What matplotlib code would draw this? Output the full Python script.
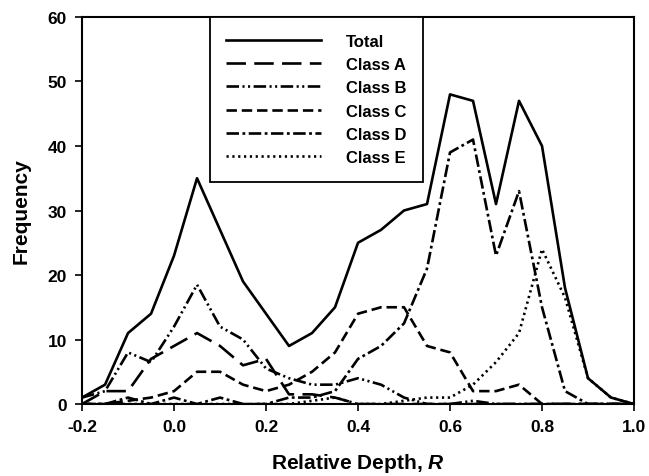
import matplotlib
matplotlib.use("Agg")
import matplotlib.pyplot as plt
import numpy as np

plt.rcParams["font.family"] = ["Liberation Sans", "DejaVu Sans"]
plt.rcParams["font.weight"] = "bold"
plt.rcParams["lines.scale_dashes"] = False
plt.rcParams["mathtext.fontset"] = "custom"
plt.rcParams["mathtext.bfit"] = "Liberation Sans:bold:italic"
plt.rcParams["mathtext.it"] = "Liberation Sans:bold:italic"

depth = [-0.2, -0.15, -0.1, -0.05, 0.0, 0.05, 0.1, 0.15, 0.2, 0.25, 0.3, 0.35,
         0.4, 0.45, 0.5, 0.55, 0.6, 0.65, 0.7, 0.75, 0.8, 0.85, 0.9, 0.95, 1.0]

total = [1, 3, 11, 14, 23, 35, 27, 19, 14, 9, 11, 15,
         25, 27, 30, 31, 48, 47, 31, 47, 40, 18, 4, 1, 0]
class_a = [0, 2, 2, 7, 9, 11, 9, 6, 7, 1.5, 1.5, 1,
           0, 0, 0, 0, 0, 0, 0, 0, 0, 0, 0, 0, 0]
class_b = [1, 2, 8, 6.5, 12, 18.5, 12, 10, 5.5, 4, 3, 3,
           4, 3, 1, 0, 0, 0.5, 0, 0, 0, 0, 0, 0, 0]
class_c = [0, 0, 0.5, 1, 2, 5, 5, 3, 2, 3, 5, 8,
           14, 15, 15, 9, 8, 2, 2, 3, 0, 0, 0, 0, 0]
class_d = [0, 0, 1, 0, 1, 0, 1, 0, 0, 1, 1, 2,
           7, 9, 12.5, 21, 39, 41, 23, 33, 15, 2, 0, 0, 0]
class_e = [0, 0, 0, 0, 0, 0, 0, 0, 0, 0, 0.5, 1,
           0, 0, 0.5, 1, 1, 3, 6.5, 11, 24, 16.5, 4, 1, 0]

series = [
    ("Total", total, "-"),
    ("Class A", class_a, (0, (14, 6))),
    ("Class B", class_b, (0, (9, 2.5, 1.5, 2.5, 1.5, 2.5))),
    ("Class C", class_c, (0, (7.5, 3.5))),
    ("Class D", class_d, (0, (9, 2.5, 2, 2.5))),
    ("Class E", class_e, (0, (1.6, 2.6))),
]

fig = plt.figure(figsize=(6.49, 4.77), dpi=100)
ax = fig.add_axes([0.1264, 0.1509, 0.8505, 0.8114])

for label, vals, ls in series:
    ax.plot(depth, vals, color="black", linestyle=ls, linewidth=1.9, label=label)

ax.set_xlim(-0.2, 1.0)
ax.set_ylim(0, 60)
ax.set_xticks(np.arange(-0.2, 1.01, 0.2))
ax.set_xticklabels(["-0.2", "0.0", "0.2", "0.4", "0.6", "0.8", "1.0"])
ax.set_yticks(range(0, 61, 10))
ax.tick_params(direction="out", length=5, width=1.2, labelsize=12.5, pad=6)
for s in ax.spines.values():
    s.set_linewidth(1.5)

ax.set_xlabel("Relative Depth, $\\mathit{R}$", fontsize=15, fontweight="bold", labelpad=12)
ax.set_ylabel("Frequency", fontsize=15, fontweight="bold", labelpad=12)

leg = ax.legend(loc="upper left", bbox_to_anchor=(0.231, 1.0), fontsize=12,
                handlelength=5.7, handletextpad=1.5, labelspacing=0.5,
                borderpad=1.0, borderaxespad=0.0, fancybox=False, framealpha=1,
                edgecolor="black")
leg.get_frame().set_linewidth(1.3)

fig.savefig("out.png", dpi=100)
